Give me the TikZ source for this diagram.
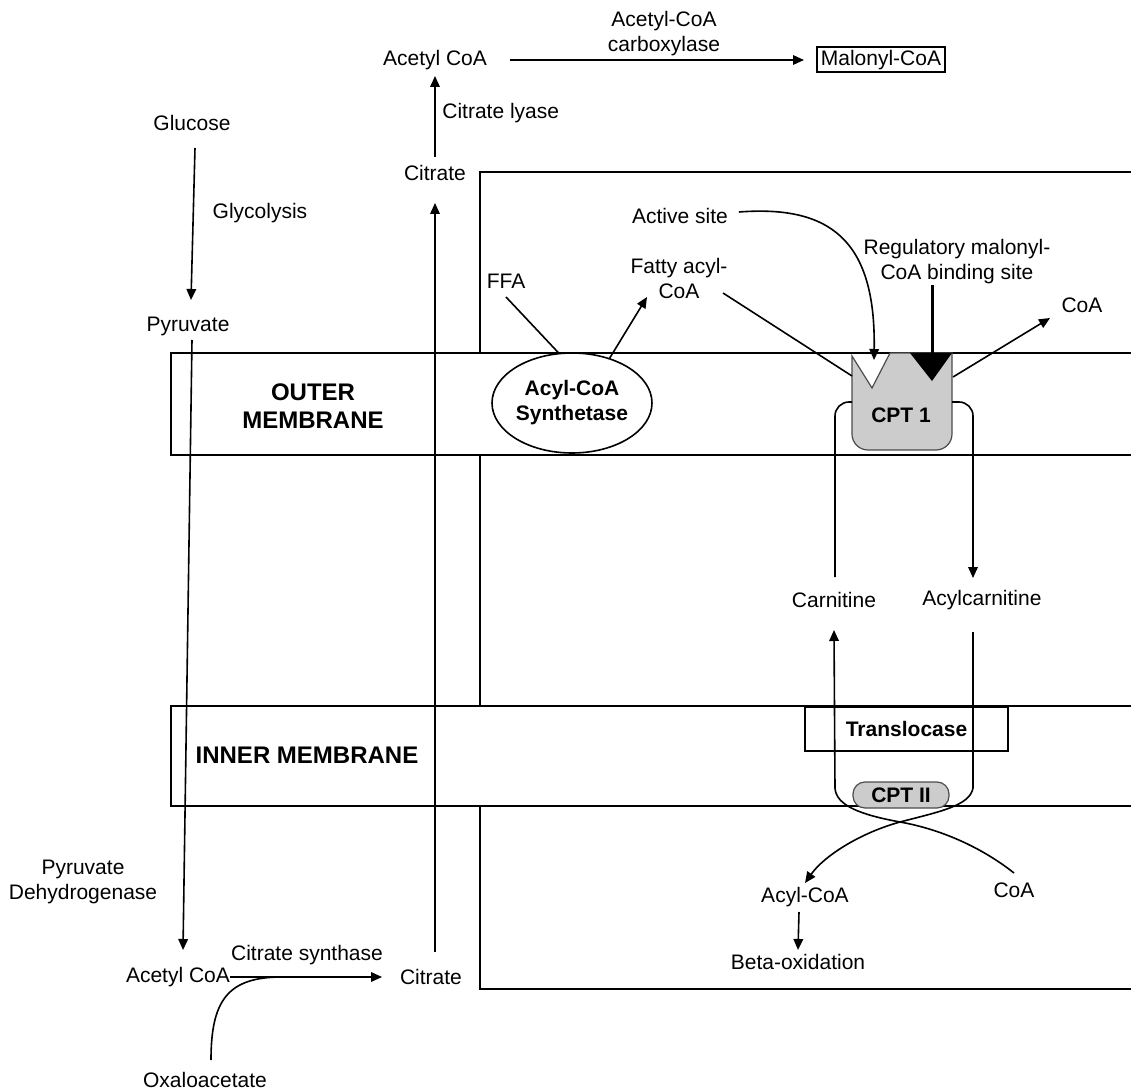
\documentclass[tikz,border=0pt]{standalone}
\usepackage{fontspec}
\setmainfont{Liberation Sans}
\usetikzlibrary{arrows.meta,shapes.geometric}

\begin{document}
\begin{tikzpicture}[x=0.5pt, y=-0.5pt, font=\fontsize{10.5}{12.5}\selectfont,
    flow/.style={line width=0.8pt, -{Triangle[length=5.5pt,width=4.8pt]}},
    link/.style={line width=0.8pt},
    tag/.style={align=center, inner sep=2pt},
    bold/.style={align=center, font=\fontsize{10.5}{12.5}\selectfont\bfseries},
    band/.style={align=center, font=\fontsize{12}{14}\selectfont\bfseries},
    enzyme/.style={fill=gray!40, draw=black!70, line width=0.6pt}]
  \useasboundingbox (0,0) rectangle (1131,1091);

  % mitochondrion, cut by the two membranes
  \draw[link] (1131,172) -- (480,172) -- (480,989) -- (1131,989);
  \foreach \t/\b in {353/455,706/806} {
    \fill[white] (171,\t) rectangle (1131,\b);
    \draw[link] (1131,\t) -- (171,\t) -- (171,\b) -- (1131,\b);
  }
  \node[band] (outer) at (313,406) {OUTER\\MEMBRANE};
  \node[band] (inner) at (307,755) {INNER MEMBRANE};

  % glycolysis and the citrate shuttle
  \node (glu) at (192,123) {Glucose};
  \node[tag] (glyco) at (260,213) {Glycolysis};
  \node (pyr) at (188,326) {Pyruvate};
  \node[tag] (pdh) at (83,882) {Pyruvate\\Dehydrogenase};
  \node (acB) at (178,977) {Acetyl CoA};
  \node[tag] (csyn) at (307,955) {Citrate synthase};
  \node (citB) at (431,977) {Citrate};
  \node (oaa) at (205,1080) {Oxaloacetate};
  \node (citT) at (435,173) {Citrate};
  \node[tag, anchor=west] (lyase) at (438,113) {Citrate lyase};
  \node (acT) at (435,60) {Acetyl CoA};
  \node[tag] (acc) at (664,34) {Acetyl-CoA\\carboxylase};
  \node[draw, line width=1pt, minimum width=64pt, minimum height=12.5pt, inner sep=1pt] (malo) at (881,60) {Malonyl-CoA};

  \draw[flow] ([xshift=1.5pt,yshift=-12.5pt]glu.center) -- ([xshift=1.5pt,yshift=13pt]pyr.center);
  \draw[flow] ([xshift=2pt,yshift=-7pt]pyr.center) -- ([xshift=2.5pt,yshift=13.5pt]acB.center);
  \draw[flow] ([xshift=-3.5pt]acB.east) -- ([xshift=-5.5pt]citB.west);
  \coordinate (oaaIn) at (282,977);
  \draw[link] ([xshift=3pt,yshift=10pt]oaa.center) .. controls (211,1000) and (228,977) .. (oaaIn);
  \draw[flow] ([xshift=2pt,yshift=12.5pt]citB.center) -- ([yshift=-15pt]citT.center);
  \draw[flow] ([yshift=8pt]citT.center) -- ([yshift=-8pt]acT.center);
  \draw[flow] ([xshift=8pt]acT.east) -- ([xshift=-6pt]malo.west);

  % outer membrane: acyl-CoA synthetase and CPT 1
  \node (ffa) at (506,281) {FFA};
  \node[tag] (facoa) at (679,278) {Fatty acyl-\\CoA};
  \node (asite) at (680,216) {Active site};
  \node[tag] (reg) at (957,262) {Regulatory malonyl-\\CoA binding site};
  \node (coaT) at (1082,305) {CoA};
  \node[bold, ellipse, draw, line width=0.8pt, fill=white, minimum width=80pt, minimum height=50pt, inner sep=0pt] (acs) at (572,403) {Acyl-CoA\\Synthetase};

  \draw[enzyme] (852,356) -- (872,388) -- (890,353) -- (952,353) [rounded corners=8pt] -- (952,450) -- (852,450) [sharp corners] -- cycle;
  \fill (910,353) -- (952,353) -- (932,381) -- cycle;
  \node[bold] (cpt1) at (901,415) {CPT 1};
  \coordinate (cptIn) at (852,376);
  \coordinate (cptOut) at (953,377);
  \coordinate (cptL) at (852,402);
  \coordinate (cptR) at (952,402);
  \coordinate (site) at (874,360);
  \coordinate (regSite) at (932,368);

  \draw[link] ([yshift=-8pt]ffa.center) -- (acs.105);
  \draw[flow] (acs.50) -- ([xshift=-16pt,yshift=-9.5pt]facoa.center);
  \draw[link] ([xshift=22pt,yshift=-7.5pt]facoa.center) -- (cptIn);
  \draw[flow] ([xshift=2pt,yshift=2pt]asite.east) .. controls (830,205) and (876,240) .. (site);
  \draw[line width=1.5pt, -{Triangle[length=6pt,width=7pt]}] ([xshift=-12.5pt,yshift=-11.5pt]reg.center) -- (regSite);
  \draw[flow] (cptOut) -- ([xshift=-16pt,yshift=-6.5pt]coaT.center);

  \node (carn) at (834,600) {Carnitine};
  \node (acarn) at (982,600) {Acylcarnitine};
  \draw[link, rounded corners=7pt] ([xshift=0.5pt,yshift=11.5pt]carn.center) |- (cptL);
  \draw[flow, rounded corners=7pt] (cptR) -| ([xshift=-4.5pt,yshift=11pt]acarn.center);

  % inner membrane: translocase and CPT II
  \node[bold, draw, line width=0.8pt, minimum width=101.5pt, minimum height=22pt] (trans) at (906.5,729) {Translocase};
  \node (acyl) at (805,897) {Acyl-CoA};
  \node (coaB) at (1014,890) {CoA};
  \node (beta) at (798,962) {Beta-oxidation};
  \draw[flow] ([xshift=-4.5pt,yshift=-16pt]acarn.center) -- (973,788) .. controls (970,806) and (938,812) .. (900,822) .. controls (860,833) and (824,856) .. ([yshift=7pt]acyl.center);
  \draw[flow] ([yshift=8.5pt]coaB.center) .. controls (985,850) and (945,830) .. (900,822) .. controls (862,815) and (836,806) .. (835,788) -- ([yshift=-15pt]carn.center);
  \node[bold, enzyme, rounded corners=6pt, minimum width=48pt, minimum height=13pt, inner sep=0pt] (cpt2) at (901,795) {CPT II};
  \draw[flow] ([xshift=-3pt,yshift=-7.5pt]acyl.center) -- ([yshift=6pt]beta.center);
\end{tikzpicture}
\end{document}
